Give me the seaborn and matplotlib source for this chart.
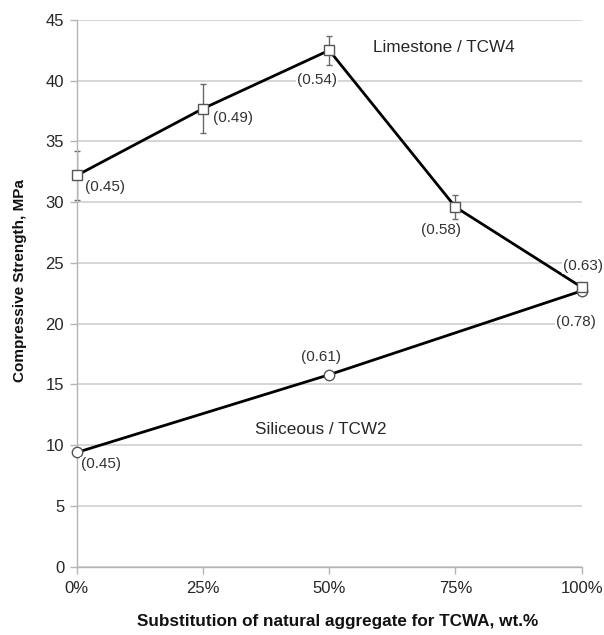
import matplotlib
matplotlib.use("Agg")
import matplotlib.pyplot as plt
import seaborn as sns
import pandas as pd

# Replacement level of natural aggregate (wt.%)
substitution = [0, 25, 50, 75, 100]
tick_labels = ["0%", "25%", "50%", "75%", "100%"]

# Compressive strength (MPa) and standard deviation
limestone_strength = [32.2, 37.7, 42.5, 29.6, 23.0]
limestone_sd = [2.05, 2.0, 1.2, 1.0, 1.4]
limestone_wc = ["(0.45)", "(0.49)", "(0.54)", "(0.58)", "(0.63)"]

siliceous_x = [0, 50, 100]
siliceous_strength = [9.4, 15.8, 22.7]
siliceous_wc = ["(0.45)", "(0.61)", "(0.78)"]

sns.set_theme(style="white")
plt.rcParams["font.family"] = ["Liberation Sans", "DejaVu Sans"]

fig = plt.figure(figsize=(6.04, 6.35), dpi=100)
ax = fig.add_axes([0.127, 0.1076, 0.836, 0.861])

df_l = pd.DataFrame({"x": substitution, "y": limestone_strength})
df_s = pd.DataFrame({"x": siliceous_x, "y": siliceous_strength})

# error bars (solid with caps, last one dotted)
for i, (x, y, e) in enumerate(zip(substitution, limestone_strength, limestone_sd)):
    last = i == len(substitution) - 1
    eb = ax.errorbar(x, y, yerr=e, fmt="none", ecolor="#6a6a6a",
                     elinewidth=1.0, capsize=0 if last else 2.5,
                     capthick=1.0, zorder=2)
    if last:
        eb[2][0].set_linestyle((0, (1, 3)))

sns.lineplot(data=df_s, x="x", y="y", ax=ax, color="black", linewidth=2.0,
             marker="o", markersize=7.5, markerfacecolor="white",
             markeredgecolor="#555555", markeredgewidth=1.0, zorder=3)
sns.lineplot(data=df_l, x="x", y="y", ax=ax, color="black", linewidth=2.0,
             marker="s", markersize=7, markerfacecolor="white",
             markeredgecolor="#555555", markeredgewidth=1.0, zorder=4)

box = dict(facecolor="white", edgecolor="none", pad=0.5)
lab_kw = dict(textcoords="offset pixels", ha="center", va="center",
              fontsize=11, color="#333333", bbox=box, zorder=5)

lime_offsets = [(28, -12), (30, -9), (-12, -30), (-14, -23), (1, 21)]
for x, y, t, off in zip(substitution, limestone_strength, limestone_wc, lime_offsets):
    ax.annotate(t, (x, y), xytext=off, **lab_kw)

sil_offsets = [(24, -12), (-8, 18), (-6, -31)]
for x, y, t, off in zip(siliceous_x, siliceous_strength, siliceous_wc, sil_offsets):
    ax.annotate(t, (x, y), xytext=off, **lab_kw)

ax.text(72.7, 42.7, "Limestone / TCW4", ha="center", va="center",
        fontsize=12.3, color="#262626")
ax.text(48.4, 11.25, "Siliceous / TCW2", ha="center", va="center",
        fontsize=12.3, color="#262626")

ax.set_xlim(0, 100)
ax.set_ylim(0, 45)
ax.set_xticks(substitution)
ax.set_xticklabels(tick_labels)
ax.set_yticks(range(0, 46, 5))
ax.grid(axis="y", color="#d0d0d0", linewidth=1.2, zorder=0)
ax.set_axisbelow(True)

for side in ["top", "right"]:
    ax.spines[side].set_visible(False)
for side in ["left", "bottom"]:
    ax.spines[side].set_color("#b5b5b5")
    ax.spines[side].set_linewidth(1.0)

ax.tick_params(axis="both", direction="out", length=5, width=1.0,
               color="#b5b5b5", labelsize=12, labelcolor="#262626",
               bottom=True, left=True)
ax.tick_params(axis="x", pad=5)
ax.tick_params(axis="y", pad=4)

ax.set_xlabel("Substitution of natural aggregate for TCWA, wt.%",
              fontsize=12.3, fontweight="bold", color="#111111", va="center")
ax.xaxis.set_label_coords(0.517, -0.101)
ax.set_ylabel("Compressive Strength, MPa", fontsize=11,
              fontweight="bold", color="#111111", va="center")
ax.yaxis.set_label_coords(-0.112, 0.5226)

for line in ax.get_lines():
    line.set_clip_on(False)

fig.savefig("out.png", dpi=100, facecolor="white")
